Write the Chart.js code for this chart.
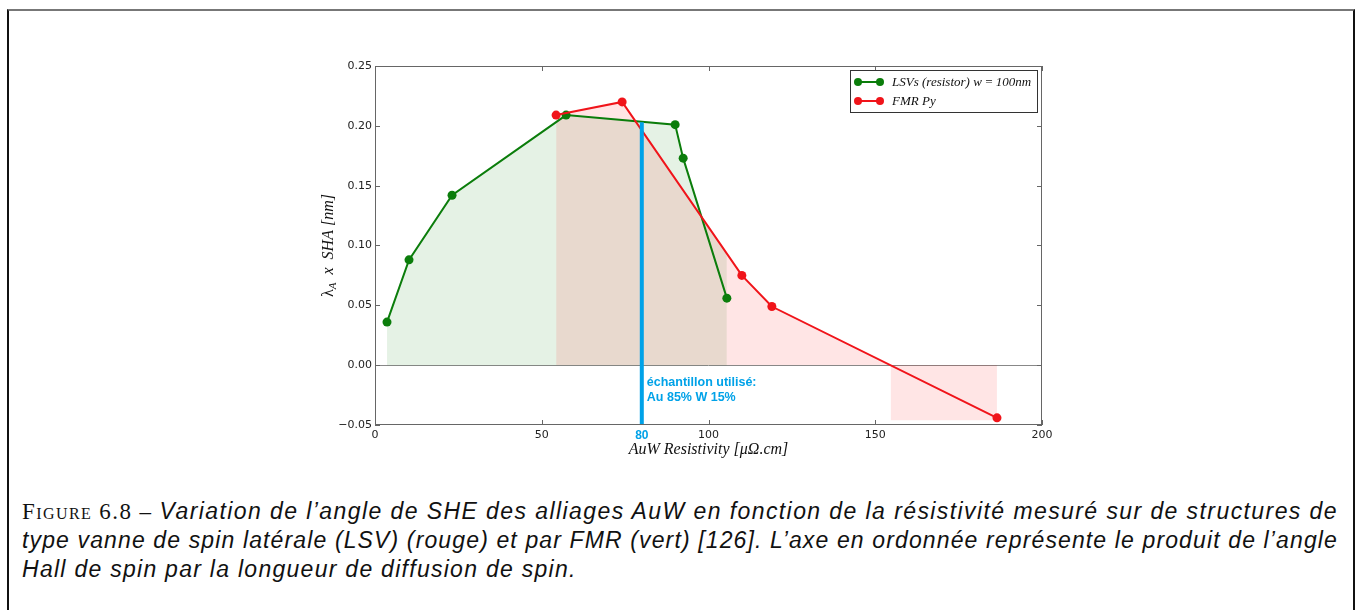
<!DOCTYPE html>
<html lang="fr">
<head>
<meta charset="utf-8">
<title>AuW – SHE vs résistivité</title>
<script src="https://cdn.jsdelivr.net/npm/chart.js@4.4.1/dist/chart.umd.min.js"></script>
<style>
  html, body { margin: 0; padding: 0; background: #fff; }
  body { width: 1359px; height: 610px; position: relative; overflow: hidden; }
  #frame {
    position: absolute; left: 7px; top: 9px; width: 1344px; height: 640px;
    border-left: 2px solid #111; border-right: 2px solid #111; border-top: 2px solid #777;
  }
  #plot { position: absolute; left: 290px; top: 50px; }
  #caption {
    position: absolute; left: 22px; top: 497px; width: 1316px;
    font: italic 23px 'Liberation Sans', sans-serif; line-height: 29px; color: #111;
  }
  #caption .row { white-space: nowrap; display: block; }
  #caption .fig { font-style: normal; font-family: 'Liberation Serif', serif; font-variant: small-caps; }
</style>
</head>
<body>
<div id="frame"></div>
<canvas id="plot" width="780" height="420"></canvas>
<div id="caption">
  <span class="row"><span class="fig">Figure 6.8 – </span>Variation de l’angle de SHE des alliages AuW en fonction de la résistivité mesuré sur de structures de</span>
  <span class="row">type vanne de spin latérale (LSV) (rouge) et par FMR (vert) [126]. L’axe en ordonnée représente le produit de l’angle</span>
  <span class="row">Hall de spin par la longueur de diffusion de spin.</span>
</div>

<script>
// ----- Data: resistivity (µΩ.cm) vs λA x SHA (nm) -----
const lsvRho = [3.6, 10.2, 23.1, 57.3, 90.0, 92.4, 105.5];
const lsvVal = [0.036, 0.088, 0.142, 0.209, 0.201, 0.173, 0.056];
const fmrRho = [54.3, 74.1, 110.0, 119.0, 186.5];
const fmrVal = [0.209, 0.220, 0.075, 0.049, -0.044];

const xTicks = [0, 50, 100, 150, 200];
const yTicks = [-0.05, 0, 0.05, 0.10, 0.15, 0.20, 0.25];

// sample actually used (Au 85% W 15%)
const sampleRho = 80;
const sampleVal = [0.203, -0.05];

// extra shaded patches (green beyond the crossing, red under zero)
const lsvPatchRho = [97.9, 105.5];
const lsvPatchVal = [0.124, 0.093];
const fmrPatchRho = [154.6, 186.5];
const fmrPatchVal = [-0.046, -0.046];

const GREEN = '#0b7d0b';
const RED   = '#f0141a';
const BLUE  = '#00a2e8';
const GREEN_FILL = 'rgba(0,128,0,0.10)';
const RED_FILL   = 'rgba(255,0,0,0.10)';

const pts = (xs, ys) => xs.map((x, i) => ({ x, y: ys[i] }));

// ----- Frame, inward ticks, axis titles, legend and annotation -----
const decor = {
  id: 'decor',
  afterDraw(chart) {
    const { ctx, chartArea: a, scales } = chart;
    const xs = scales.x, ys = scales.y;
    ctx.save();

    // box + inward ticks on the four sides
    ctx.strokeStyle = '#666';
    ctx.lineWidth = 1;
    ctx.strokeRect(a.left + 0.5, a.top + 0.5, a.right - a.left - 1, a.bottom - a.top - 1);
    ctx.beginPath();
    xTicks.forEach(v => {
      const px = Math.round(xs.getPixelForValue(v)) + 0.5;
      ctx.moveTo(px, a.bottom); ctx.lineTo(px, a.bottom - 5);
      ctx.moveTo(px, a.top);    ctx.lineTo(px, a.top + 5);
    });
    yTicks.forEach(v => {
      const py = Math.round(ys.getPixelForValue(v)) + 0.5;
      ctx.moveTo(a.left, py);  ctx.lineTo(a.left + 5, py);
      ctx.moveTo(a.right, py); ctx.lineTo(a.right - 5, py);
    });
    ctx.stroke();

    // x title
    ctx.fillStyle = '#111';
    ctx.font = 'italic 16px "Liberation Serif"';
    ctx.textAlign = 'center';
    ctx.textBaseline = 'middle';
    ctx.fillText('AuW Resistivity [\u03bc\u03a9.cm]', (a.left + a.right) / 2, a.bottom + 25);

    // y title with subscript A
    ctx.save();
    ctx.translate(a.left - 46, (a.top + a.bottom) / 2);
    ctx.rotate(-Math.PI / 2);
    const big = '16px "Liberation Serif"', ital = 'italic 16px "Liberation Serif"', sub = 'italic 11px "Liberation Serif"';
    const parts = [['\u03bb', big, 0], ['A', sub, 4], ['  x  SHA [nm]', ital, 0]];
    let w = 0;
    parts.forEach(p => { ctx.font = p[1]; w += ctx.measureText(p[0]).width; });
    let cx = -w / 2;
    ctx.textAlign = 'left';
    parts.forEach(p => { ctx.font = p[1]; ctx.fillText(p[0], cx, p[2]); cx += ctx.measureText(p[0]).width; });
    ctx.restore();

    // legend box in the upper right corner
    const lx = a.right - 192, ly = a.top + 4, lw = 187, lh = 42;
    ctx.fillStyle = '#fff';
    ctx.fillRect(lx, ly, lw, lh);
    ctx.strokeStyle = '#333';
    ctx.strokeRect(lx + 0.5, ly + 0.5, lw, lh);
    const entries = [
      [GREEN, 'LSVs (resistor) w\u2009=\u2009100nm'],
      [RED, 'FMR Py']
    ];
    entries.forEach((e, i) => {
      const yy = ly + 12 + i * 19;
      ctx.strokeStyle = e[0]; ctx.fillStyle = e[0]; ctx.lineWidth = 2;
      ctx.beginPath(); ctx.moveTo(lx + 8, yy); ctx.lineTo(lx + 30, yy); ctx.stroke();
      [lx + 8, lx + 30].forEach(px => { ctx.beginPath(); ctx.arc(px, yy, 4, 0, Math.PI * 2); ctx.fill(); });
      ctx.fillStyle = '#111';
      ctx.font = 'italic 13px "Liberation Serif"';
      ctx.textAlign = 'left';
      ctx.fillText(e[1], lx + 42, yy + 1);
    });

    // sample marker: label under the axis and note beside the line
    const sx = xs.getPixelForValue(sampleRho);
    ctx.fillStyle = BLUE;
    ctx.font = 'bold 12px "Liberation Sans"';
    ctx.textAlign = 'center';
    ctx.fillText(String(sampleRho), sx, a.bottom + 11);
    ctx.textAlign = 'left';
    ctx.font = 'bold 12.5px "Liberation Sans"';
    ctx.fillText('échantillon utilisé:', sx + 5, ys.getPixelForValue(-0.0147));
    ctx.fillText('Au 85% W 15%', sx + 5, ys.getPixelForValue(-0.027));

    ctx.restore();
  }
};

const chart = new Chart(document.getElementById('plot'), {
  type: 'line',
  data: {
    datasets: [
      {
        label: 'LSVs (resistor) w=100nm',
        data: pts(lsvRho, lsvVal),
        borderColor: GREEN, backgroundColor: GREEN_FILL,
        pointBackgroundColor: GREEN, pointBorderColor: GREEN,
        borderWidth: 2, pointRadius: 4.5, pointBorderWidth: 0,
        fill: 'origin', order: 2
      },
      {
        label: 'FMR Py',
        data: pts(fmrRho, fmrVal),
        borderColor: RED, backgroundColor: RED_FILL,
        pointBackgroundColor: RED, pointBorderColor: RED,
        borderWidth: 2, pointRadius: 4.5, pointBorderWidth: 0,
        fill: { target: 'origin', above: RED_FILL, below: 'rgba(0,0,0,0)' }, order: 1
      },
      {
        label: 'lsv patch',
        data: pts(lsvPatchRho, lsvPatchVal),
        borderWidth: 0, pointRadius: 0, backgroundColor: GREEN_FILL,
        fill: 0, order: 4
      },
      {
        label: 'fmr patch',
        data: pts(fmrPatchRho, fmrPatchVal),
        borderWidth: 0, pointRadius: 0, backgroundColor: RED_FILL,
        fill: 'origin', order: 5
      },
      {
        label: 'sample',
        data: sampleVal.map(y => ({ x: sampleRho, y })),
        borderColor: BLUE, borderWidth: 4, pointRadius: 0,
        fill: false, order: 0
      }
    ]
  },
  options: {
    responsive: false,
    animation: false,
    events: [],
    layout: { padding: { top: 16, right: 28, left: 0, bottom: 0 } },
    plugins: {
      legend: { display: false },
      tooltip: { enabled: false },
      filler: { drawTime: 'beforeDatasetsDraw' }
    },
    scales: {
      x: {
        type: 'linear', min: 0, max: 200,
        afterBuildTicks: s => { s.ticks = xTicks.map(v => ({ value: v })); },
        afterFit: s => { s.height = 45; },
        grid: { display: false },
        border: { display: false },
        ticks: { font: { family: 'DejaVu Sans', size: 11 }, color: '#222', maxRotation: 0, padding: -4 }
      },
      y: {
        type: 'linear', min: -0.05, max: 0.25,
        afterBuildTicks: s => { s.ticks = yTicks.map(v => ({ value: v })); },
        afterFit: s => { s.width = 85; },
        grid: {
          drawTicks: false,
          color: c => (c.tick && Math.abs(c.tick.value) < 1e-9) ? '#888' : 'rgba(0,0,0,0)'
        },
        border: { display: false },
        ticks: {
          font: { family: 'DejaVu Sans', size: 11 }, color: '#222', padding: 3,
          callback: v => v.toFixed(2).replace('-', '\u2212')
        }
      }
    }
  },
  plugins: [decor]
});

// ----- Caption: stretch the first two lines to the full width -----
const rows = document.querySelectorAll('#caption .row');
const full = 1316;
let spacing = 0;
[rows[0], rows[1]].forEach(r => {
  r.style.display = 'inline-block';
  const extra = full - r.getBoundingClientRect().width;
  const ls = extra / r.textContent.length;
  r.style.letterSpacing = ls + 'px';
  r.style.display = 'block';
  spacing += ls / 2;
});
rows[2].style.letterSpacing = spacing + 'px';
</script>
</body>
</html>
